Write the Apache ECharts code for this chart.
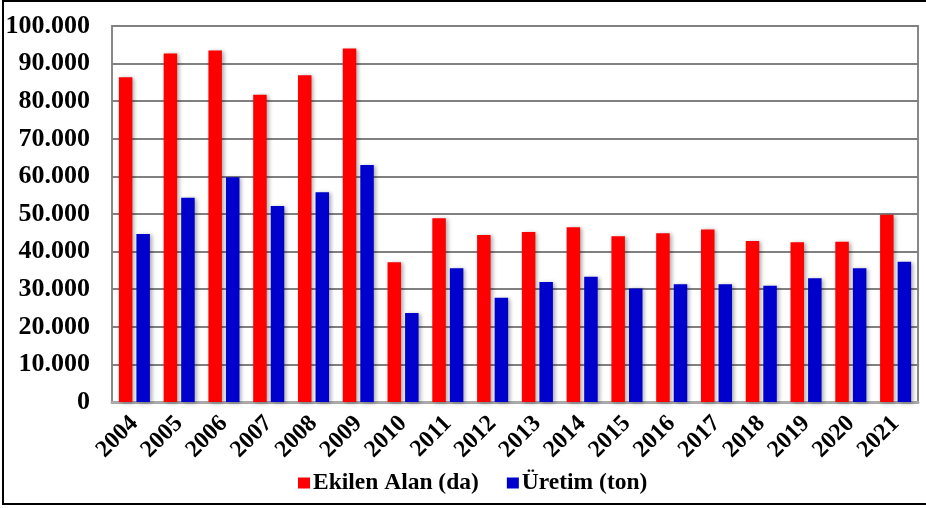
<!DOCTYPE html>
<html>
<head>
<meta charset="utf-8">
<script src="https://cdn.jsdelivr.net/npm/echarts@6/dist/echarts.min.js"></script>
<style>
html,body{margin:0;padding:0;background:#fff;}
#c{width:926px;height:508px;}
</style>
</head>
<body>
<div id="c"></div>
<script>
const years = ['2004','2005','2006','2007','2008','2009','2010','2011','2012','2013','2014','2015','2016','2017','2018','2019','2020','2021'];
const ekilenAlan = [86400, 92700, 93500, 81700, 86900, 94000, 37200, 48900, 44400, 45200, 46500, 44100, 44900, 45900, 42800, 42500, 42600, 49800];
const uretim = [44700, 54300, 59800, 52100, 55800, 63000, 23700, 35600, 27700, 31900, 33300, 30200, 31300, 31300, 30900, 32900, 35600, 37300];
const seriesNames = ['Ekilen Alan (da)', 'Üretim (ton)'];

const font = "'Liberation Serif','Times New Roman',serif";
const chart = echarts.init(document.getElementById('c'));
const shadow = {shadowColor:'rgba(0,0,0,0.35)', shadowBlur:4, shadowOffsetX:2, shadowOffsetY:1};
chart.setOption({
  animation:false,
  backgroundColor:'#fff',
  grid:{left:112, right:8, top:26, bottom:106, show:true, borderColor:'#888', borderWidth:2},
  graphic:[{type:'rect', shape:{x:3,y:1,width:960,height:503}, style:{fill:null, stroke:'#000', lineWidth:2}, silent:true}],
  legend:{
    data:seriesNames, left:293, top:466, itemWidth:12, itemHeight:11, itemGap:28,
    icon:'rect',
    textStyle:{fontFamily:font, fontWeight:'bold', fontSize:23.5, color:'#000', padding:[0,0,0,-2]}
  },
  xAxis:{
    type:'category', data:years,
    axisLine:{lineStyle:{color:'#aaa', width:3}},
    axisTick:{show:false},
    axisLabel:{interval:0, rotate:45, margin:18, fontFamily:font, fontWeight:'bold', fontSize:24, color:'#000', hideOverlap:false}
  },
  yAxis:{
    type:'value', min:0, max:100000, interval:10000,
    axisLine:{show:false}, axisTick:{show:false},
    splitLine:{lineStyle:{color:'#808080', width:2}},
    axisLabel:{margin:22, fontFamily:font, fontWeight:'bold', fontSize:26, color:'#000',
      formatter:function(v){ return v===0 ? '0' : (v/1000).toFixed(0)+'.000'; }}
  },
  series:[
    {name:seriesNames[0], type:'bar', data:ekilenAlan, barWidth:13.5, barGap:'30%', itemStyle:Object.assign({color:'#ff0000'}, shadow)},
    {name:seriesNames[1], type:'bar', data:uretim, barWidth:13.5, barGap:'30%', itemStyle:Object.assign({color:'#0000cc'}, shadow)}
  ]
});
</script>
</body>
</html>
